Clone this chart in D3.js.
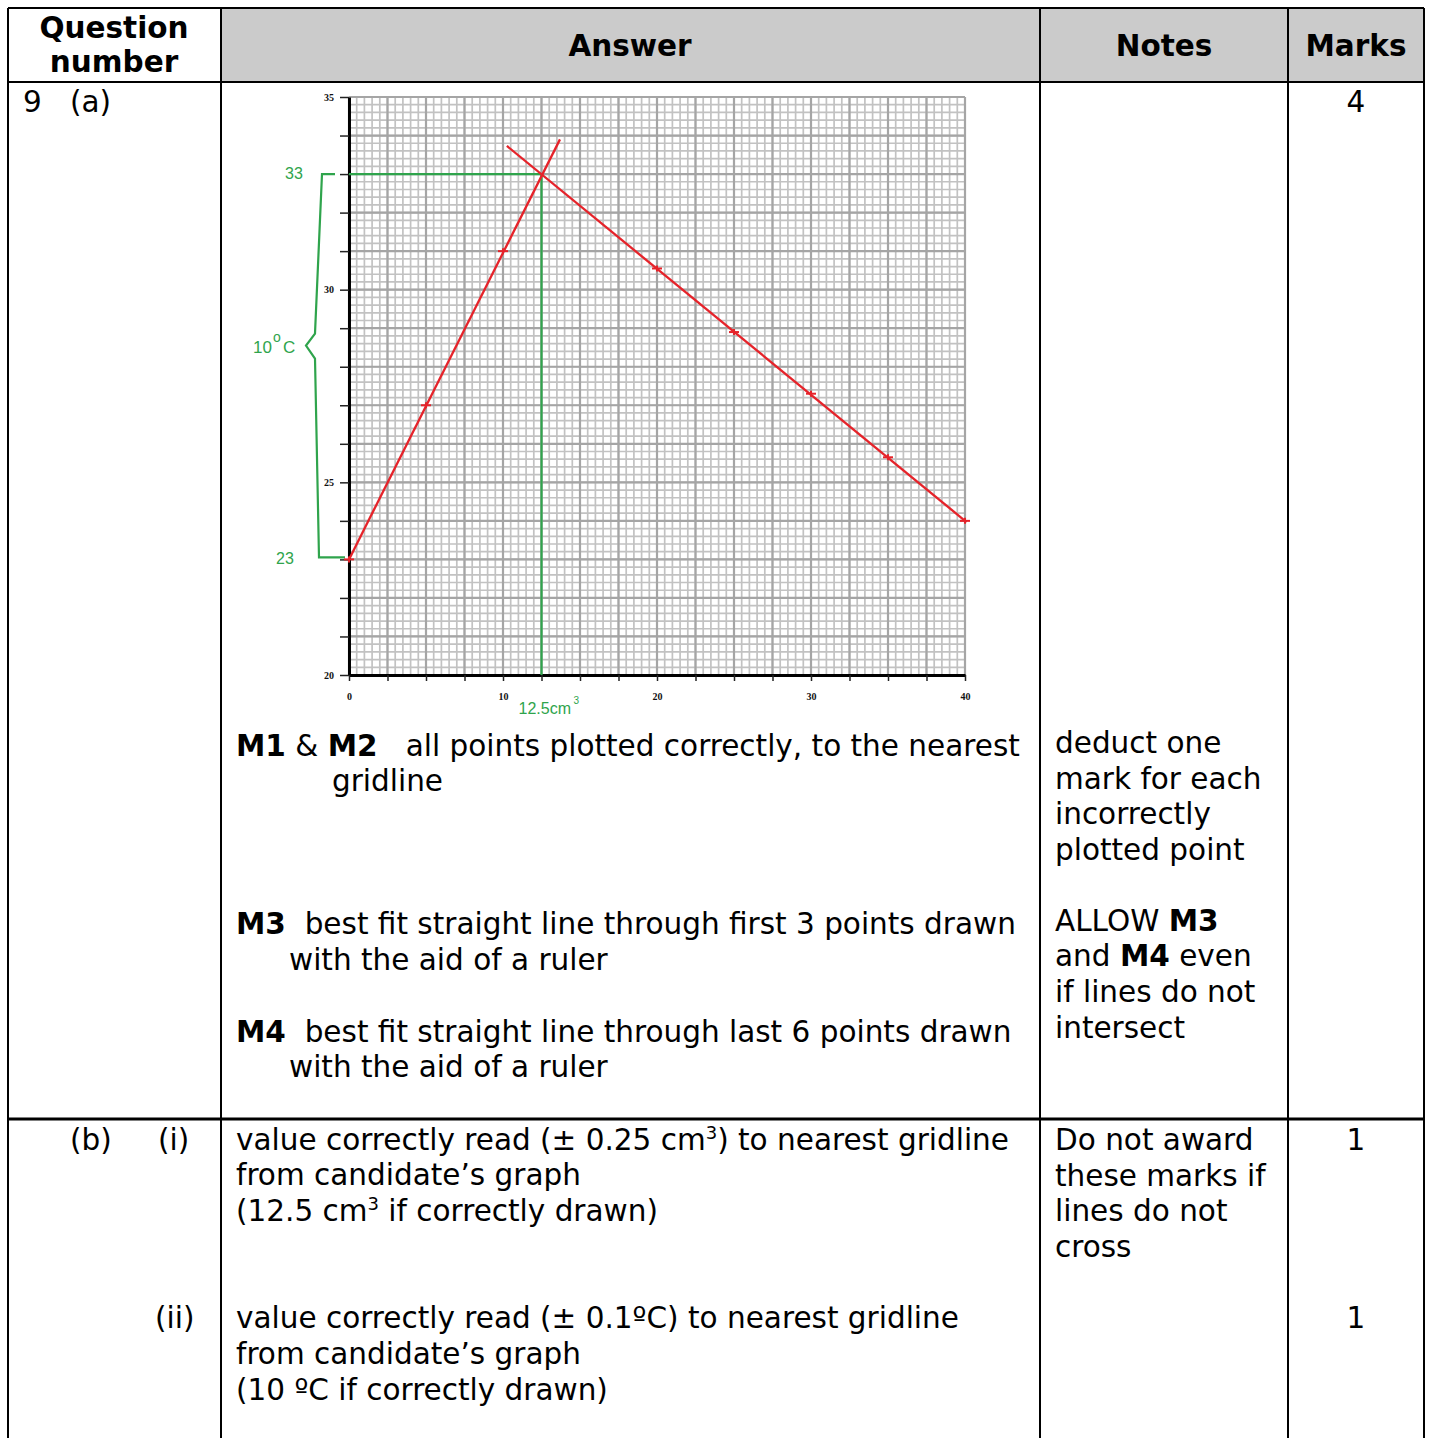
<!DOCTYPE html>
<html><head><meta charset="utf-8">
<script src="https://cdn.jsdelivr.net/npm/d3@7"></script>
<style>body{margin:0;background:#fff} text{white-space:pre}</style>
</head><body><svg id="c" width="1431" height="1438"></svg>
<script>
// ---- data ----
const xTickValues = [0, 10, 20, 30, 40];
const yTickValues = [20, 25, 30, 35];
const risingVolume = [0, 5, 10];
const risingTemp = [23, 27, 31];
const fallingVolume = [20, 25, 30, 35, 40];
const fallingTemp = [30.55, 28.9, 27.3, 25.65, 24.0];
const risingFitVolume = [0, 13.7];
const risingFitTemp = [23, 33.9];
const fallingFitVolume = [10.25, 40.1];
const fallingFitTemp = [33.73, 23.97];
const readVolume = 12.5, readTemp = 33, startTemp = 23, braceTipTemp = 28.55;

const svg = d3.select("#c");
const FONT = "'DejaVu Sans', Verdana, sans-serif";
const RED = "#e5232a", GREEN = "#2fa44c";
const FS = 29.5;

// ---- table ----
svg.append("rect").attr("x", 221).attr("y", 8).attr("width", 1203).attr("height", 74).attr("fill", "#cbcbcb");
const tl = svg.append("g").attr("stroke", "#000").attr("stroke-width", 2);
[[8, 8, 8, 1438], [1424, 8, 1424, 1438], [221, 8, 221, 1438], [1040, 8, 1040, 1438], [1288, 8, 1288, 1438],
 [8, 8, 1424, 8], [8, 82, 1424, 82]].forEach(l => tl.append("line").attr("x1", l[0]).attr("y1", l[1]).attr("x2", l[2]).attr("y2", l[3]));
tl.append("line").attr("x1", 8).attr("x2", 1424).attr("y1", 1119).attr("y2", 1119).attr("stroke-width", 3);

function txt(x, y, segs, opts = {}) {
  const t = svg.append("text").attr("x", x).attr("y", y).attr("font-family", FONT)
    .attr("font-size", opts.size || FS).attr("text-anchor", opts.anchor || "start").attr("fill", "#000");
  if (typeof segs === "string") segs = [{t: segs}];
  segs.forEach(s => {
    const ts = t.append("tspan").text(s.t);
    if (s.b) ts.attr("font-weight", "bold");
    if (s.sup) ts.attr("font-size", 18).attr("dy", -11);
    if (s.after) ts.attr("dy", 11);
  });
  return t;
}
// header
txt(114, 38, [{t: "Question", b: true}], {anchor: "middle"});
txt(114, 72, [{t: "number", b: true}], {anchor: "middle"});
txt(630, 56, [{t: "Answer", b: true}], {anchor: "middle"});
txt(1164, 56, [{t: "Notes", b: true}], {anchor: "middle"});
txt(1356, 56, [{t: "Marks", b: true}], {anchor: "middle"});
// row a
txt(23, 112, "9");
txt(70, 112, "(a)");
txt(1356, 112, "4", {anchor: "middle"});
txt(236, 756, [{t: "M1", b: true}, {t: " & "}, {t: "M2", b: true}, {t: "   all points plotted correctly, to the nearest"}]);
txt(332, 791, "gridline");
txt(236, 934, [{t: "M3", b: true}, {t: "  best fit straight line through first 3 points drawn"}]);
txt(289, 970, "with the aid of a ruler");
txt(236, 1042, [{t: "M4", b: true}, {t: "  best fit straight line through last 6 points drawn"}]);
txt(289, 1077, "with the aid of a ruler");
["deduct one", "mark for each", "incorrectly", "plotted point"].forEach((s, i) => txt(1055, 753 + i * 35.7, s));
txt(1055, 931, [{t: "ALLOW "}, {t: "M3", b: true}]);
txt(1055, 966, [{t: "and "}, {t: "M4", b: true}, {t: " even"}]);
txt(1055, 1002, "if lines do not");
txt(1055, 1038, "intersect");
// row b
txt(70, 1150, "(b)");
txt(158, 1150, "(i)");
txt(236, 1150, [{t: "value correctly read (± 0.25 cm"}, {t: "3", sup: true}, {t: ") to nearest gridline", after: true}]);
txt(236, 1185, "from candidate’s graph");
txt(236, 1221, [{t: "(12.5 cm"}, {t: "3", sup: true}, {t: " if correctly drawn)", after: true}]);
["Do not award", "these marks if", "lines do not", "cross"].forEach((s, i) => txt(1055, 1150 + i * 35.7, s));
txt(1356, 1150, "1", {anchor: "middle"});
txt(155, 1328, "(ii)");
txt(236, 1328, "value correctly read (± 0.1ºC) to nearest gridline");
txt(236, 1364, "from candidate’s graph");
txt(236, 1400, "(10 ºC if correctly drawn)");
txt(1356, 1328, "1", {anchor: "middle"});

// ---- chart ----
const x = d3.scaleLinear().domain([0, 40]).range([349, 965]);
const y = d3.scaleLinear().domain([20, 35]).range([675, 97]);
const g = svg.append("g");
// grid
const grid = g.append("g");
grid.selectAll(".vmin").data(d3.range(0, 40.001, 0.5)).join("line")
  .attr("x1", d => x(d)).attr("x2", d => x(d)).attr("y1", y(35)).attr("y2", y(20))
  .attr("stroke", "#c2c2c2").attr("stroke-width", 1.7);
grid.selectAll(".hmin").data(d3.range(20, 35.001, 0.2)).join("line")
  .attr("y1", d => y(d)).attr("y2", d => y(d)).attr("x1", x(0)).attr("x2", x(40))
  .attr("stroke", "#c2c2c2").attr("stroke-width", 1.7);
grid.selectAll(".vmaj").data(d3.range(0, 40.001, 2.5)).join("line")
  .attr("x1", d => x(d)).attr("x2", d => x(d)).attr("y1", y(35)).attr("y2", y(20))
  .attr("stroke", "#a5a5a5").attr("stroke-width", 2.2);
grid.selectAll(".hmaj").data(d3.range(20, 35.001, 1)).join("line")
  .attr("y1", d => y(d)).attr("y2", d => y(d)).attr("x1", x(0)).attr("x2", x(40))
  .attr("stroke", "#a5a5a5").attr("stroke-width", 2.2);

// axes
const yAxis = d3.axisLeft(y).tickValues(d3.range(20, 35.001, 1)).tickSize(9).tickSizeOuter(0).tickPadding(6)
  .tickFormat(d => yTickValues.includes(Math.round(d)) ? d3.format("d")(d) : "");
const ya = g.append("g").attr("transform", `translate(${x(0)},0)`).call(yAxis);
const xAxis = d3.axisBottom(x).tickValues(d3.range(0, 40.001, 2.5)).tickSize(6).tickSizeOuter(0).tickPadding(12)
  .tickFormat(d => xTickValues.includes(d) ? d3.format("d")(d) : "");
const xa = g.append("g").attr("transform", `translate(0,${y(20)})`).call(xAxis);
[ya, xa].forEach(a => {
  a.select(".domain").attr("stroke", "#000").attr("stroke-width", 3);
  a.selectAll(".tick line").attr("stroke", "#222").attr("stroke-width", 1.5);
  a.selectAll("text").attr("font-family", "'Liberation Serif', serif").attr("font-weight", "bold")
    .attr("font-size", 10).attr("fill", "#111");
});

// green reading lines
const gl = g.append("g").attr("stroke", GREEN).attr("stroke-width", 2.2).attr("fill", "none");
gl.append("line").attr("x1", x(0)).attr("x2", x(readVolume)).attr("y1", y(readTemp)).attr("y2", y(readTemp));
gl.append("line").attr("x1", x(readVolume)).attr("x2", x(readVolume)).attr("y1", y(readTemp)).attr("y2", y(20));
// brace
const bx = x(0), tip = y(braceTipTemp);
gl.append("path").attr("d", d3.line()([
  [bx - 14, y(readTemp)], [bx - 27, y(readTemp)], [bx - 34, tip - 12], [bx - 43, tip],
  [bx - 34, tip + 13], [bx - 30, y(startTemp) - 2], [bx - 4, y(startTemp) - 2]
]));
const gt = (xx, yy, s, anchor, fs) => g.append("text").attr("x", xx).attr("y", yy).text(s)
  .attr("font-family", "'Liberation Sans', Arial, sans-serif").attr("font-size", fs || 16).attr("fill", GREEN)
  .attr("text-anchor", anchor || "middle");
gt(bx - 55, y(readTemp) + 5, "33");
gt(bx - 64, y(startTemp) + 5, "23");
gt(bx - 77, tip + 7, "10", "end", 17);
gt(bx - 72, tip - 4, "o", "middle", 14);
gt(bx - 66, tip + 7, "C", "start", 17);
gt(x(readVolume) - 23, y(20) + 39, "12.5cm", "start", 16);
gt(x(readVolume) + 32, y(20) + 29, "3", "start", 10);

// red fit lines
const line = d3.line().x(d => x(d[0])).y(d => y(d[1]));
const rl = g.append("g").attr("stroke", RED).attr("stroke-width", 2.3).attr("fill", "none");
rl.append("path").attr("d", line(d3.zip(risingFitVolume, risingFitTemp)));
rl.append("path").attr("d", line(d3.zip(fallingFitVolume, fallingFitTemp)));
// markers
const pts = d3.zip(risingVolume.concat(fallingVolume), risingTemp.concat(fallingTemp));
const mk = g.append("g").attr("stroke", RED).attr("stroke-width", 2);
mk.selectAll(".h").data(pts).join("line")
  .attr("x1", d => x(d[0]) - 5).attr("x2", d => x(d[0]) + 5).attr("y1", d => y(d[1])).attr("y2", d => y(d[1]));
mk.selectAll(".v").data(pts).join("line")
  .attr("x1", d => x(d[0])).attr("x2", d => x(d[0])).attr("y1", d => y(d[1]) - 3).attr("y2", d => y(d[1]) + 3);
</script></body></html>
